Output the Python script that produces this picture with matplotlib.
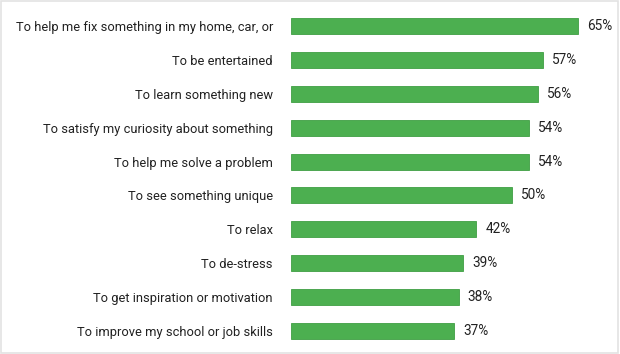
import matplotlib
matplotlib.use("Agg")
import matplotlib.pyplot as plt
from matplotlib.patches import Rectangle

categories = [
    "To help me fix something in my home, car, or",
    "To be entertained",
    "To learn something new",
    "To satisfy my curiosity about something",
    "To help me solve a problem",
    "To see something unique",
    "To relax",
    "To de-stress",
    "To get inspiration or motivation",
    "To improve my school or job skills",
]
values = [65, 57, 56, 54, 54, 50, 42, 39, 38, 37]
value_labels = [f"{v}%" for v in values]

plt.rcParams['font.family'] = ['Roboto', 'DejaVu Sans']

fig = plt.figure(figsize=(6.2, 3.54), dpi=100)
ax = fig.add_axes([291/620, 0.0172, 309/620, 0.957])

ypos = list(range(len(categories)))
ax.barh(ypos, values, height=0.47, color='#4caf50', edgecolor='#3f9f43', linewidth=0.6)
ax.set_xlim(0, 70)
ax.set_ylim(len(categories) - 0.5, -0.5)

ax.set_yticks(ypos)
ax.set_yticklabels(categories, fontsize=9.3, color='#212121')
ax.tick_params(axis='y', length=0, pad=13)
ax.set_xticks([])
for s in ax.spines.values():
    s.set_visible(False)

for y, v, lab in zip(ypos, values, value_labels):
    ax.annotate(lab, xy=(v, y), xytext=(6.5, 0), textcoords='offset points',
                va='center', ha='left', fontsize=9.8, color='#212121')

fig.patches.append(Rectangle((0.002, 0.004), 0.994, 0.992, transform=fig.transFigure,
                             fill=False, edgecolor='#e3e3e3', linewidth=1.2))

fig.savefig("out.png", dpi=100, facecolor='white')
